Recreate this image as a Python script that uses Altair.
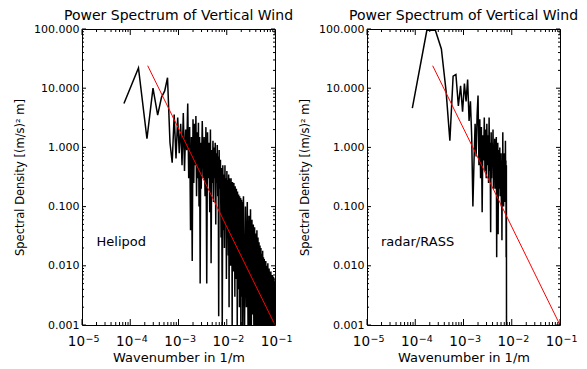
import altair as alt
import pandas as pd

FONT = "DejaVu Sans"

# ---------------- data ----------------
# Helipod spectrum: FFT bins (bin index * bin width) and spectral density
DK_HELIPOD = 7.4e-5
helipod_bins = (list(range(1, 41)) + list(range(42, 100, 2))
                + list(range(100, 300, 3)) + list(range(300, 1351, 15)))
helipod_psd = [
    5.5, 22, 1.4, 10, 3.5, 7, 9, 15, 1.2, 0.55,
    3.6, 0.65, 3.2, 0.8, 2.5, 0.5, 3.8, 0.4, 2.0, 0.9,
    5.5, 0.3, 2.2, 0.04, 1.5, 0.012, 3.0, 0.25, 2.5, 0.5,
    3.4, 0.15, 1.8, 0.3, 2.6, 0.1, 1.5, 0.005, 1.2, 0.2,
    # bins 42..98 step 2
    2.8, 0.3, 1.5, 0.15, 2.2, 0.005, 1.8, 0.3, 1.2, 0.08,
    2.0, 0.011, 0.9, 0.25, 1.3, 0.12, 1.0, 0.3, 1.2, 0.05,
    0.8, 0.25, 1.1, 0.15, 0.7, 0.0014, 0.9, 0.2, 0.6,
    # bins 100..298 step 3
    0.6, 0.03, 0.45, 0.0008, 0.5, 0.04, 0.35, 0.02, 0.5, 0.05,
    0.3, 0.006, 0.4, 0.03, 0.28, 0.015, 0.35, 0.002, 0.3, 0.025,
    0.25, 0.01, 0.3, 0.03, 0.22, 0.0008, 0.26, 0.02, 0.2, 0.008,
    0.25, 0.015, 0.18, 0.003, 0.22, 0.02, 0.16, 0.006, 0.2, 0.012,
    0.15, 0.0007, 0.18, 0.01, 0.14, 0.004, 0.16, 0.012, 0.12, 0.002,
    0.15, 0.008, 0.12, 0.005, 0.14, 0.0006, 0.11, 0.006, 0.13, 0.003,
    0.1, 0.007, 0.12, 0.0009, 0.1, 0.004, 0.11,
    # bins 300..1350 step 15
    0.15, 0.0006, 0.1, 0.002, 0.12, 0.0005, 0.07, 0.001, 0.09, 0.0004,
    0.06, 0.0015, 0.05, 0.0005, 0.045, 0.0008, 0.035, 0.0004, 0.04, 0.001,
    0.03, 0.0005, 0.025, 0.0008, 0.022, 0.0004, 0.02, 0.0007, 0.016, 0.0005,
    0.018, 0.0009, 0.014, 0.0004, 0.013, 0.0006, 0.011, 0.0005, 0.012, 0.0008,
    0.01, 0.0004, 0.009, 0.0006, 0.011, 0.0005, 0.008, 0.0007, 0.009, 0.0004,
    0.008, 0.0006, 0.0075, 0.0005, 0.008, 0.0007, 0.007, 0.0004, 0.0065, 0.0006,
    0.007, 0.0005, 0.006, 0.0007, 0.0065, 0.0004, 0.006, 0.0006, 0.0055, 0.0005,
    0.005,
]

# radar/RASS spectrum
DK_RADAR = 8.7e-5
radar_bins = list(range(1, 91))
radar_psd = [
    4.6, 95, 95, 46, 9, 1.3, 16, 17, 5, 11,
    4, 12, 6, 14, 2.8, 6, 1.5, 0.1, 0.6, 2.5,
    0.7, 3.5, 7.5, 0.5, 3.0, 0.3, 2.2, 0.08, 1.6, 0.6,
    3.2, 0.4, 2.0, 0.3, 2.5, 0.5, 1.6, 0.25, 3.2, 0.4,
    1.2, 0.037, 1.8, 0.3, 1.2, 0.5, 2.0, 0.2, 1.0, 0.35,
    1.4, 0.2, 1.0, 0.3, 1.5, 0.014, 0.8, 0.25, 1.2, 0.034,
    0.9, 0.2, 0.7, 0.3, 1.0, 0.15, 0.6, 0.25, 0.8, 0.1,
    0.6, 0.027, 0.5, 0.2, 1.8, 0.15, 0.6, 0.1, 0.5, 0.2,
    0.8, 0.12, 0.5, 0.2, 1.3, 0.3, 0.6, 0.014, 0.5, 0.000001,
]

# k^(-5/3) reference line (end points)
red_k = [2.3e-4, 0.1]
red_psd = [24.0, 0.001]

# axis ticks and labels
XMAJ = [1e-5, 1e-4, 1e-3, 1e-2, 1e-1]
XBASE = ["10", "10", "10", "10", "10"]
XEXP = ["−5", "−4", "−3", "−2", "−1"]
YMAJ = [0.001, 0.01, 0.1, 1.0, 10.0, 100.0]
XMIN = [m * 10.0 ** e for e in range(-5, -1) for m in range(2, 10)]
YMIN = [m * 10.0 ** e for e in range(-3, 2) for m in range(2, 10)]

TITLE = "Power Spectrum of Vertical Wind"
W, H = 193, 296

# ---------------- chart ----------------
xscale = alt.Scale(type="log", domain=[1e-5, 0.1], nice=False)
yscale = alt.Scale(type="log", domain=[0.001, 100], nice=False)

xaxis = alt.Axis(values=XMAJ, labels=False, title="Wavenumber in 1/m",
                 ticks=False, domain=False, grid=False, titleFont=FONT,
                 titleFontSize=13, titleFontWeight="normal", titleColor="black",
                 titlePadding=26)
yaxis = alt.Axis(values=YMAJ, format=".3f", title="Spectral Density [(m/s)² m]",
                 ticks=False, domain=False, grid=False, labelFlush=False,
                 labelOverlap=False, labelFont=FONT, labelFontSize=11,
                 labelPadding=3, labelColor="black", titleFont=FONT,
                 titleFontSize=11.5, titleFontWeight="normal", titleColor="black",
                 titlePadding=8)

X = alt.X("k:Q", scale=xscale, axis=xaxis)
Y = alt.Y("psd:Q", scale=yscale, axis=yaxis)


def tick_layers():
    xmaj = alt.Chart(pd.DataFrame({"k": XMAJ, "base": XBASE, "exp": XEXP}))
    xmin = alt.Chart(pd.DataFrame({"k": XMIN}))
    ymaj = alt.Chart(pd.DataFrame({"psd": YMAJ}))
    ymin = alt.Chart(pd.DataFrame({"psd": YMIN}))
    rule = dict(color="black", strokeWidth=1)
    return [
        xmaj.mark_rule(**rule).encode(x=X, y=alt.value(H), y2=alt.value(H - 6)),
        xmin.mark_rule(**rule).encode(x=X, y=alt.value(H), y2=alt.value(H - 3)),
        xmaj.mark_rule(**rule).encode(x=X, y=alt.value(0), y2=alt.value(6)),
        xmin.mark_rule(**rule).encode(x=X, y=alt.value(0), y2=alt.value(3)),
        ymaj.mark_rule(**rule).encode(y=Y, x=alt.value(0), x2=alt.value(4)),
        ymin.mark_rule(**rule).encode(y=Y, x=alt.value(0), x2=alt.value(2)),
        ymaj.mark_rule(**rule).encode(y=Y, x=alt.value(W), x2=alt.value(W - 4)),
        ymin.mark_rule(**rule).encode(y=Y, x=alt.value(W), x2=alt.value(W - 2)),
        # x tick labels: "10" with a raised exponent
        xmaj.mark_text(align="right", baseline="alphabetic", dx=3, font=FONT,
                       fontSize=13.5, color="black").encode(
            x=X, y=alt.value(H + 21), text="base:N"),
        xmaj.mark_text(align="left", baseline="alphabetic", dx=3.5, font=FONT,
                       fontSize=9.5, color="black").encode(
            x=X, y=alt.value(H + 17), text="exp:N"),
    ]


def panel(bins, dk, psd, name, name_k, name_psd):
    df = pd.DataFrame({"k": [b * dk for b in bins], "psd": psd})
    spectrum = alt.Chart(df).mark_line(color="black", strokeWidth=1.5, clip=True).encode(x=X, y=Y)
    red = alt.Chart(pd.DataFrame({"k": red_k, "psd": red_psd})).mark_line(
        color="#ff0000", strokeWidth=1, clip=True).encode(x=X, y=Y)
    label = alt.Chart(pd.DataFrame({"k": [name_k], "psd": [name_psd], "t": [name]})).mark_text(
        align="left", baseline="middle", font=FONT, fontSize=13, color="black"
    ).encode(x=X, y=Y, text="t:N")
    return alt.layer(spectrum, red, label, *tick_layers()).properties(
        width=W, height=H,
        title=alt.TitleParams(TITLE, font=FONT, fontSize=14, fontWeight="normal",
                              anchor="middle", offset=0, color="black"),
    )


left = panel(helipod_bins, DK_HELIPOD, helipod_psd, "Helipod", 2.0e-5, 0.025)
right = panel(radar_bins, DK_RADAR, radar_psd, "radar/RASS", 1.95e-5, 0.025)

chart = alt.hconcat(left, right, spacing=92, bounds="flush").configure_view(
    stroke="black", strokeWidth=1
).properties(
    padding={"left": 14, "top": 8, "right": 5, "bottom": 5},
    background="white",
)

chart.save("out.html", embed_options={"renderer": "svg", "actions": False})
